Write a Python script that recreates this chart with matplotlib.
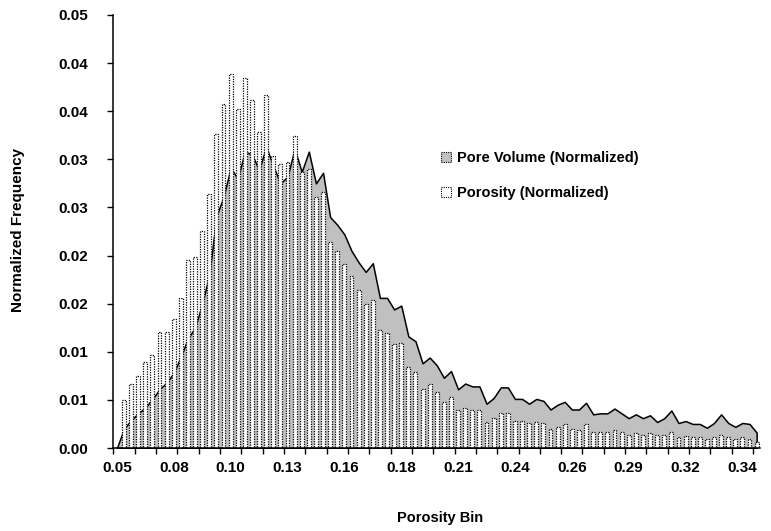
import numpy as np
import matplotlib
matplotlib.use("Agg")
import matplotlib.pyplot as plt
from matplotlib.patches import Patch

plt.rcParams['font.family'] = ['Liberation Sans', 'DejaVu Sans']
plt.rcParams['font.weight'] = 'bold'

# porosity bins 0.05 .. 0.35, one category per bin (91 bins)
n_bins = 91
tick_labels = ['0.05', '0.08', '0.10', '0.13', '0.16', '0.18',
               '0.21', '0.24', '0.26', '0.29', '0.32', '0.34']
label_every = 8

porosity = [
    0.0, 0.0050, 0.0066, 0.0075, 0.0089, 0.0097, 0.0121, 0.0121, 0.0134, 0.0156,
    0.0195, 0.0198, 0.0226, 0.0264, 0.0326, 0.0357, 0.0389, 0.0352, 0.0385, 0.0362,
    0.0328, 0.0367, 0.0303, 0.0295, 0.0297, 0.0324, 0.0287, 0.0290, 0.0261, 0.0266,
    0.0214, 0.0205, 0.0191, 0.0179, 0.0164, 0.0150, 0.0154, 0.0123, 0.0119, 0.0108,
    0.0109, 0.0084, 0.0079, 0.0061, 0.0066, 0.0058, 0.0048, 0.0053, 0.0039, 0.0042,
    0.0039, 0.0039, 0.0027, 0.0031, 0.0036, 0.0036, 0.0028, 0.0028, 0.0026, 0.0027,
    0.0026, 0.0020, 0.0022, 0.0025, 0.0020, 0.0019, 0.0025, 0.0017, 0.0017, 0.0017,
    0.0019, 0.0017, 0.0014, 0.0016, 0.0014, 0.0016, 0.0013, 0.0014, 0.0017, 0.0011,
    0.0012, 0.0011, 0.0011, 0.0009, 0.0011, 0.0014, 0.0011, 0.0009, 0.0011, 0.0009,
    0.0006,
]

pore_volume = [
    0.0, 0.0020, 0.0029, 0.0036, 0.0042, 0.0051, 0.0061, 0.0068, 0.0078, 0.0095,
    0.0114, 0.0125, 0.0150, 0.0180, 0.0241, 0.0261, 0.0291, 0.0280, 0.0308, 0.0305,
    0.0289, 0.0313, 0.0293, 0.0275, 0.0282, 0.0311, 0.0287, 0.0308, 0.0275, 0.0286,
    0.0240, 0.0232, 0.0222, 0.0205, 0.0193, 0.0183, 0.0192, 0.0156, 0.0156, 0.0144,
    0.0148, 0.0116, 0.0111, 0.0088, 0.0094, 0.0086, 0.0073, 0.0080, 0.0061, 0.0067,
    0.0064, 0.0064, 0.0046, 0.0052, 0.0063, 0.0063, 0.0051, 0.0051, 0.0046, 0.0051,
    0.0049, 0.0040, 0.0045, 0.0048, 0.0040, 0.0040, 0.0047, 0.0035, 0.0036, 0.0036,
    0.0041, 0.0036, 0.0031, 0.0035, 0.0031, 0.0034, 0.0027, 0.0031, 0.0039, 0.0026,
    0.0028, 0.0025, 0.0025, 0.0021, 0.0026, 0.0035, 0.0026, 0.0022, 0.0026, 0.0025,
    0.0016,
]

y_ticks = [0.0, 0.005, 0.01, 0.015, 0.02, 0.025, 0.03, 0.035, 0.04, 0.045]
y_tick_labels = ['0.00', '0.01', '0.01', '0.02', '0.02',
                 '0.03', '0.03', '0.04', '0.04', '0.05']

x = np.arange(n_bins)

fig = plt.figure(figsize=(7.71, 5.31), dpi=100)
ax = fig.add_axes([0.147, 0.1563, 0.839, 0.8155])

# area series behind the columns
ax.fill_between(x, pore_volume, 0, facecolor='#c0c0c0', edgecolor='black',
                linewidth=1.1, zorder=1)
ax.bar(x, porosity, width=0.55, facecolor='white', edgecolor='black',
       linewidth=0.9, linestyle=(0, (1, 1)), zorder=2)

ax.set_xlim(-0.5, n_bins - 0.5)
ax.set_ylim(0, 0.045)

ax.set_yticks(y_ticks)
ax.set_yticklabels(y_tick_labels)
ax.set_xticks(x[::label_every])
ax.set_xticklabels(tick_labels)
ax.set_xticks(np.arange(-0.5, n_bins, 3), minor=True)

ax.tick_params(axis='y', direction='out', length=4, width=1, pad=14, labelsize=11)
ax.tick_params(axis='x', which='major', length=0, pad=9, labelsize=11)
ax.tick_params(axis='x', which='minor', direction='out', length=4, width=1)

for side in ['top', 'right']:
    ax.spines[side].set_visible(False)
for side in ['left', 'bottom']:
    ax.spines[side].set_linewidth(1.1)
    ax.spines[side].set_zorder(3)

fig.text(18 / 771, 1 - 230 / 531, 'Normalized Frequency', rotation=90,
         ha='center', va='center', fontsize=11, fontweight='bold')
fig.text(440 / 771, 1 - 518 / 531, 'Porosity Bin',
         ha='center', va='center', fontsize=10.5, fontweight='bold')

handles = [
    Patch(facecolor='#c0c0c0', edgecolor='black', linestyle=(0, (1, 1)), linewidth=0.8),
    Patch(facecolor='white', edgecolor='black', linestyle=(0, (1, 1)), linewidth=0.8),
]
fig.legend(handles, ['Pore Volume (Normalized)', 'Porosity (Normalized)'],
           loc='upper left', bbox_to_anchor=(428 / 771, 1 - 138 / 531),
           frameon=False, handlelength=0.65, handleheight=0.65, handletextpad=0.45,
           labelspacing=1.45, prop={'size': 10.5, 'weight': 'bold'})

fig.savefig('out.png', dpi=100)
